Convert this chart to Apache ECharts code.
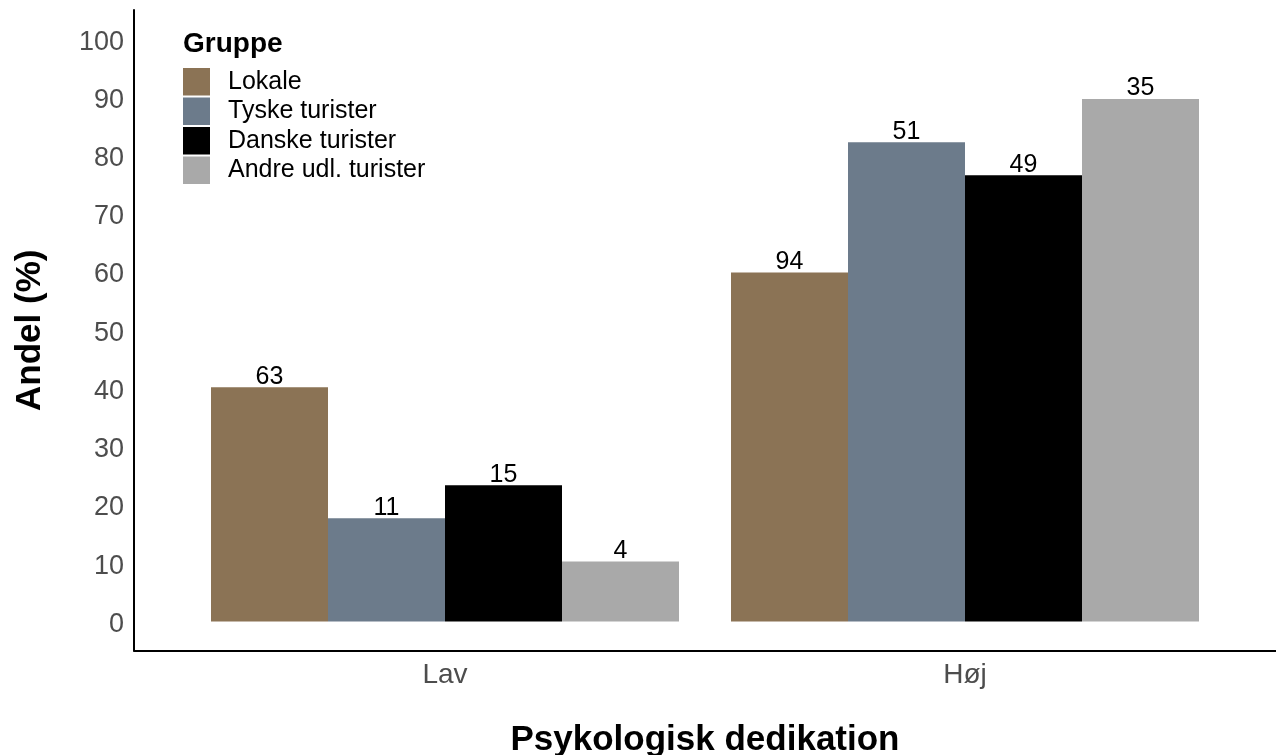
<!DOCTYPE html>
<html>
<head>
<meta charset="utf-8">
<script src="https://cdn.jsdelivr.net/npm/echarts@6/dist/echarts.min.js"></script>
<style>
html,body{margin:0;padding:0;background:#fff;}
#chart{width:1276px;height:755px;}
</style>
</head>
<body>
<div id="chart"></div>
<script>
const categories = ['Lav', 'Høj'];
const groups = ['Lokale', 'Tyske turister', 'Danske turister', 'Andre udl. turister'];
const lokale = [40.2, 59.9];
const tyske = [17.7, 82.3];
const danske = [23.4, 76.6];
const andre = [10.3, 89.7];
const lokaleN = [63, 94];
const tyskeN = [11, 51];
const danskeN = [15, 49];
const andreN = [4, 35];
const yTicks = [0, 10, 20, 30, 40, 50, 60, 70, 80, 90, 100];

const colors = ['#8B7355', '#6C7B8B', '#000000', '#A9A9A9'];
const FONT = '"Liberation Sans", Arial, sans-serif';

const values = [lokale, tyske, danske, andre];
const counts = [lokaleN, tyskeN, danskeN, andreN];

const series = groups.map((g, i) => ({
  name: g,
  type: 'bar',
  xAxisIndex: 1,
  yAxisIndex: 1,
  barGap: 0,
  barCategoryGap: '10%',
  itemStyle: { color: colors[i] },
  label: {
    show: true,
    position: 'top',
    distance: -2,
    fontFamily: FONT,
    fontSize: 25,
    color: '#000',
    formatter: p => String(counts[i][p.dataIndex])
  },
  data: values[i]
}));

const chart = echarts.init(document.getElementById('chart'), null, { renderer: 'canvas' });
chart.setOption({
  animation: false,
  backgroundColor: '#fff',
  textStyle: { fontFamily: FONT },
  title: {
    text: 'Gruppe',
    left: 183,
    top: 30,
    padding: 0,
    textStyle: { fontFamily: FONT, fontSize: 28, fontWeight: 'bold', color: '#000' }
  },
  legend: {
    data: groups,
    orient: 'vertical',
    left: 183,
    top: 68,
    padding: 0,
    icon: 'rect',
    itemWidth: 27,
    itemHeight: 27.5,
    itemGap: 2,
    selectedMode: false,
    textStyle: { fontFamily: FONT, fontSize: 25, color: '#000', padding: [0, 0, 0, 13] }
  },
  grid: [
    { left: 134, right: 0, top: 10, bottom: 104.5, outerBoundsMode: 'none' },
    { left: 185, right: 51, top: 10, bottom: 104.5, outerBoundsMode: 'none' }
  ],
  xAxis: [
    {
      gridIndex: 0, type: 'value', min: 0, max: 1,
      axisLine: { show: true, onZero: false, lineStyle: { color: '#000', width: 2 } },
      axisTick: { show: false }, axisLabel: { show: false }, splitLine: { show: false },
      name: 'Psykologisk dedikation', nameLocation: 'middle', nameGap: 72,
      nameTextStyle: { fontFamily: FONT, fontSize: 35, fontWeight: 'bold', color: '#000' }
    },
    {
      gridIndex: 1, type: 'category', data: categories,
      axisLine: { show: false }, axisTick: { show: false }, splitLine: { show: false },
      axisLabel: { margin: 11, fontFamily: FONT, fontSize: 28, color: '#4D4D4D' }
    }
  ],
  yAxis: [
    {
      gridIndex: 0, type: 'value', min: -5, max: 105, interval: 5,
      axisLine: { show: true, onZero: false, lineStyle: { color: '#000', width: 2 } },
      axisTick: { show: false }, splitLine: { show: false },
      axisLabel: {
        margin: 10, fontFamily: FONT, fontSize: 27, color: '#4D4D4D',
        verticalAlign: 'top', lineHeight: 6,
        formatter: v => (yTicks.indexOf(v) >= 0 ? String(v) : '')
      },
      name: 'Andel (%)', nameLocation: 'middle', nameGap: 86, nameRotate: 90,
      nameTextStyle: { fontFamily: FONT, fontSize: 35, fontWeight: 'bold', color: '#000' }
    },
    {
      gridIndex: 1, type: 'value', min: -5, max: 105, show: false
    }
  ],
  series: series
});
</script>
</body>
</html>
